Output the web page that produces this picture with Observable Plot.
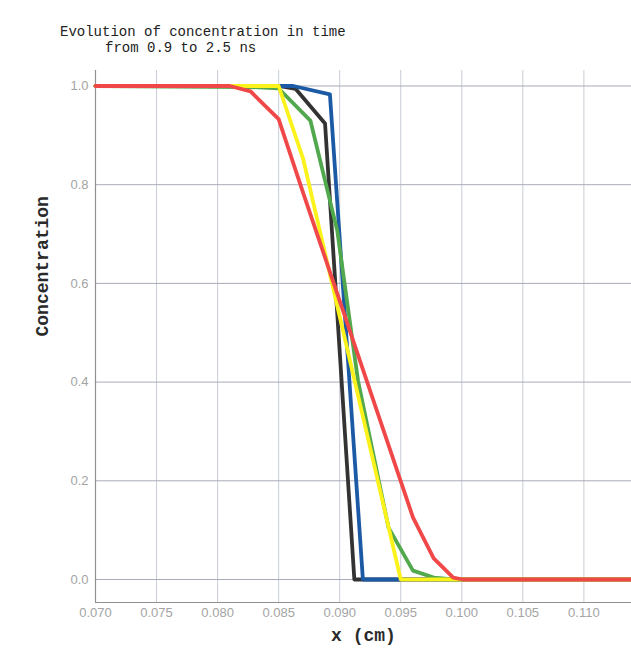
<!DOCTYPE html>
<html><head><meta charset="utf-8">
<script src="https://cdn.jsdelivr.net/npm/d3@7"></script>
<script src="https://cdn.jsdelivr.net/npm/@observablehq/plot@0.6"></script>
<style>
body{margin:0;background:#fff;width:631px;height:651px;position:relative;overflow:hidden}
.t{position:absolute;font-family:"Liberation Mono",monospace;font-size:14px;line-height:16px;color:#222;white-space:pre}
#chart{position:absolute;left:0;top:62px}
</style></head><body>
<div class="t" style="left:60px;top:24px">Evolution of concentration in time</div>
<div class="t" style="left:105px;top:40px">from 0.9 to 2.5 ns</div>
<div id="chart"></div>
<script>
// axis setup
const xDomain = [0.070, 0.1139];
const yDomain = [-0.0466, 1.0314];
const xTicks = [0.070, 0.075, 0.080, 0.085, 0.090, 0.095, 0.100, 0.105, 0.110];
const yTicks = [0.0, 0.2, 0.4, 0.6, 0.8, 1.0];
const xLabel = "x (cm)";
const yLabel = "Concentration";

// series (drawing order: first is at the bottom)
const seriesNames = ["black", "blue", "green", "yellow", "red"];
const seriesColors = ["#333333", "#1d5aa6", "#52a84c", "#fbf21c", "#f04848"];

const blackX = [0.070, 0.0850, 0.0864, 0.0888, 0.0912, 0.1139];
const blackY = [1.0, 1.0, 0.994, 0.924, 0.0, 0.0];

const blueX = [0.070, 0.0862, 0.0892, 0.0919, 0.1139];
const blueY = [1.0, 1.0, 0.983, 0.0, 0.0];

const greenX = [0.070, 0.0826, 0.0850, 0.0876, 0.0898, 0.0915, 0.0940, 0.0960, 0.0977, 0.0993, 0.1139];
const greenY = [1.0, 0.998, 0.995, 0.930, 0.707, 0.403, 0.105, 0.018, 0.004, 0.0, 0.0];

const yellowX = [0.070, 0.0850, 0.0870, 0.0950, 0.1139];
const yellowY = [1.0, 1.0, 0.853, 0.0, 0.0];

const redX = [0.070, 0.0810, 0.0827, 0.0850, 0.0870, 0.0960, 0.0977, 0.0993, 0.1001, 0.1139];
const redY = [1.0, 1.0, 0.989, 0.933, 0.784, 0.126, 0.043, 0.004, 0.0, 0.0];

const seriesXs = [blackX, blueX, greenX, yellowX, redX];
const seriesYs = [blackY, blueY, greenY, yellowY, redY];

const lineMarks = seriesNames.map((name, i) => {
  const rows = seriesXs[i].map((x, j) => ({series: name, x, y: seriesYs[i][j]}));
  return Plot.line(rows, {x: "x", y: "y", stroke: seriesColors[i], strokeWidth: 3.8});
});

const chart = Plot.plot({
  width: 631, height: 589,
  marginLeft: 95, marginRight: 0, marginTop: 8, marginBottom: 49,
  x: {domain: xDomain},
  y: {domain: yDomain},
  style: {background: "transparent", fontFamily: "'Liberation Sans', Arial, sans-serif", fontSize: "13px", overflow: "visible"},
  marks: [
    Plot.gridX(xTicks, {stroke: "#c8ccd6", strokeOpacity: 1}),
    Plot.gridY(yTicks, {stroke: "#a8acb8", strokeOpacity: 1}),
    Plot.axisX(xTicks, {tickSize: 0, tickPadding: 5, tickFormat: d3.format(".3f"), fill: "#a4a4a4", label: null}),
    Plot.axisY(yTicks, {tickSize: 0, tickPadding: 7, tickFormat: d3.format(".1f"), fill: "#a4a4a4", label: null}),
    Plot.ruleX([xDomain[0]], {stroke: "#909090", strokeWidth: 1.2}),
    Plot.ruleY([yDomain[0]], {stroke: "#909090", strokeWidth: 1.2}),
    ...lineMarks,
    Plot.text([yLabel], {text: d => d, frameAnchor: "left", dx: -53, rotate: -90, fontFamily: "'Liberation Mono', monospace", fontSize: 18, fontWeight: "bold", fill: "#2a2a2a"}),
    Plot.text([xLabel], {text: d => d, frameAnchor: "bottom", dy: 38, fontFamily: "'Liberation Mono', monospace", fontSize: 18, fontWeight: "bold", fill: "#2a2a2a"})
  ]
});
document.getElementById("chart").appendChild(chart);
</script></body></html>
